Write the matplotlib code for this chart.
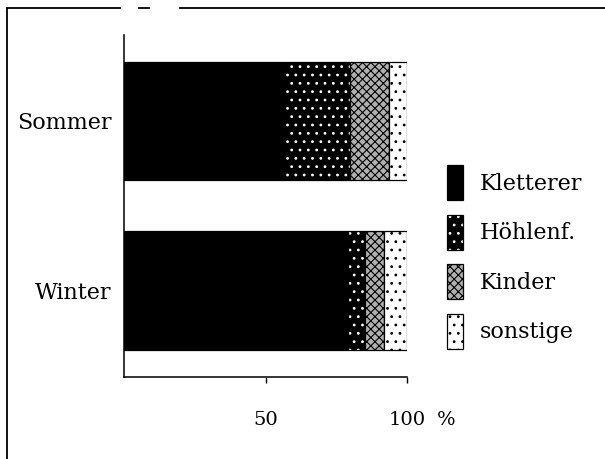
import numpy as np
import matplotlib
matplotlib.use("Agg")
import matplotlib.pyplot as plt
from matplotlib.lines import Line2D
from matplotlib.legend_handler import HandlerTuple

# Anteile der Besuchergruppen in Prozent
seasons = ["Winter", "Sommer"]
kletterer = [79, 57]
hoehlenf = [6, 23]
kinder = [7, 13.5]
sonstige = [8, 6.5]

groups = ["Kletterer", "Höhlenf.", "Kinder", "sonstige"]
values = [kletterer, hoehlenf, kinder, sonstige]
# face, hatch, hatch colour
styles = [
    ("black", None, "black"),
    ("black", "..", "white"),
    ("#b0b0b0", "xxxx", "black"),
    ("white", "..", "black"),
]

plt.rcParams["font.family"] = ["DejaVu Serif"]
plt.rcParams["hatch.linewidth"] = 0.8

W, H = 605, 459
fig = plt.figure(figsize=(W / 100, H / 100), dpi=100)
ax = fig.add_axes([124 / W, 1 - 376.5 / H, (407 - 124) / W, (376.5 - 35) / H])

y = np.arange(len(seasons))
left = np.zeros(len(seasons))
handles = []
for name, vals, (fc, hatch, hc) in zip(groups, values, styles):
    ax.barh(y, vals, left=left, height=0.70, color=fc, hatch=hatch,
            edgecolor=hc, linewidth=0)
    ax.barh(y, vals, left=left, height=0.70, fill=False,
            edgecolor="black", linewidth=0.9)
    left += np.array(vals)
    filled = plt.Rectangle((0, 0), 1, 1, facecolor=fc, hatch=hatch,
                           edgecolor=hc, linewidth=0)
    outline = plt.Rectangle((0, 0), 1, 1, fill=False, edgecolor="black",
                            linewidth=0.9)
    handles.append((filled, outline))

ax.set_xlim(0, 100)
ax.set_ylim(-0.507, 1.507)
ax.set_yticks(y)
ax.set_yticklabels(seasons, fontsize=16)
ax.tick_params(axis="y", length=0, pad=9)
ax.set_xticks([50, 100])
ax.set_xticklabels(["50", "100"], fontsize=14)
ax.tick_params(axis="x", length=4.5, width=1, direction="out", pad=20)
ax.annotate("%", xy=(1, 0), xycoords="axes fraction",
            xytext=(21.5, -24.5), textcoords="offset points",
            ha="left", va="top", fontsize=14)
for s in ["top", "right"]:
    ax.spines[s].set_visible(False)
for s in ["left", "bottom"]:
    ax.spines[s].set_linewidth(1.1)

fig.legend(handles, groups, loc="center left",
           bbox_to_anchor=(447 / W, 1 - 257 / H), frameon=False,
           fontsize=16, handlelength=0.72, handleheight=2.05,
           handletextpad=0.77, labelspacing=0.65, borderpad=0,
           borderaxespad=0,
           handler_map={tuple: HandlerTuple(ndivide=1, pad=0)})

# Rahmen der Vorlage (oben und links)
frame = dict(color="black", linewidth=1.3, transform=fig.transFigure)
fy = 1 - 8 / H
fig.add_artist(Line2D([7 / W, 7 / W], [0, fy], **frame))
fig.add_artist(Line2D([7 / W, 120 / W], [fy, fy], **frame))
fig.add_artist(Line2D([139 / W, 149 / W], [fy, fy], **frame))
fig.add_artist(Line2D([180 / W, 1], [fy, fy], **frame))

fig.savefig("out.png", dpi=100)
